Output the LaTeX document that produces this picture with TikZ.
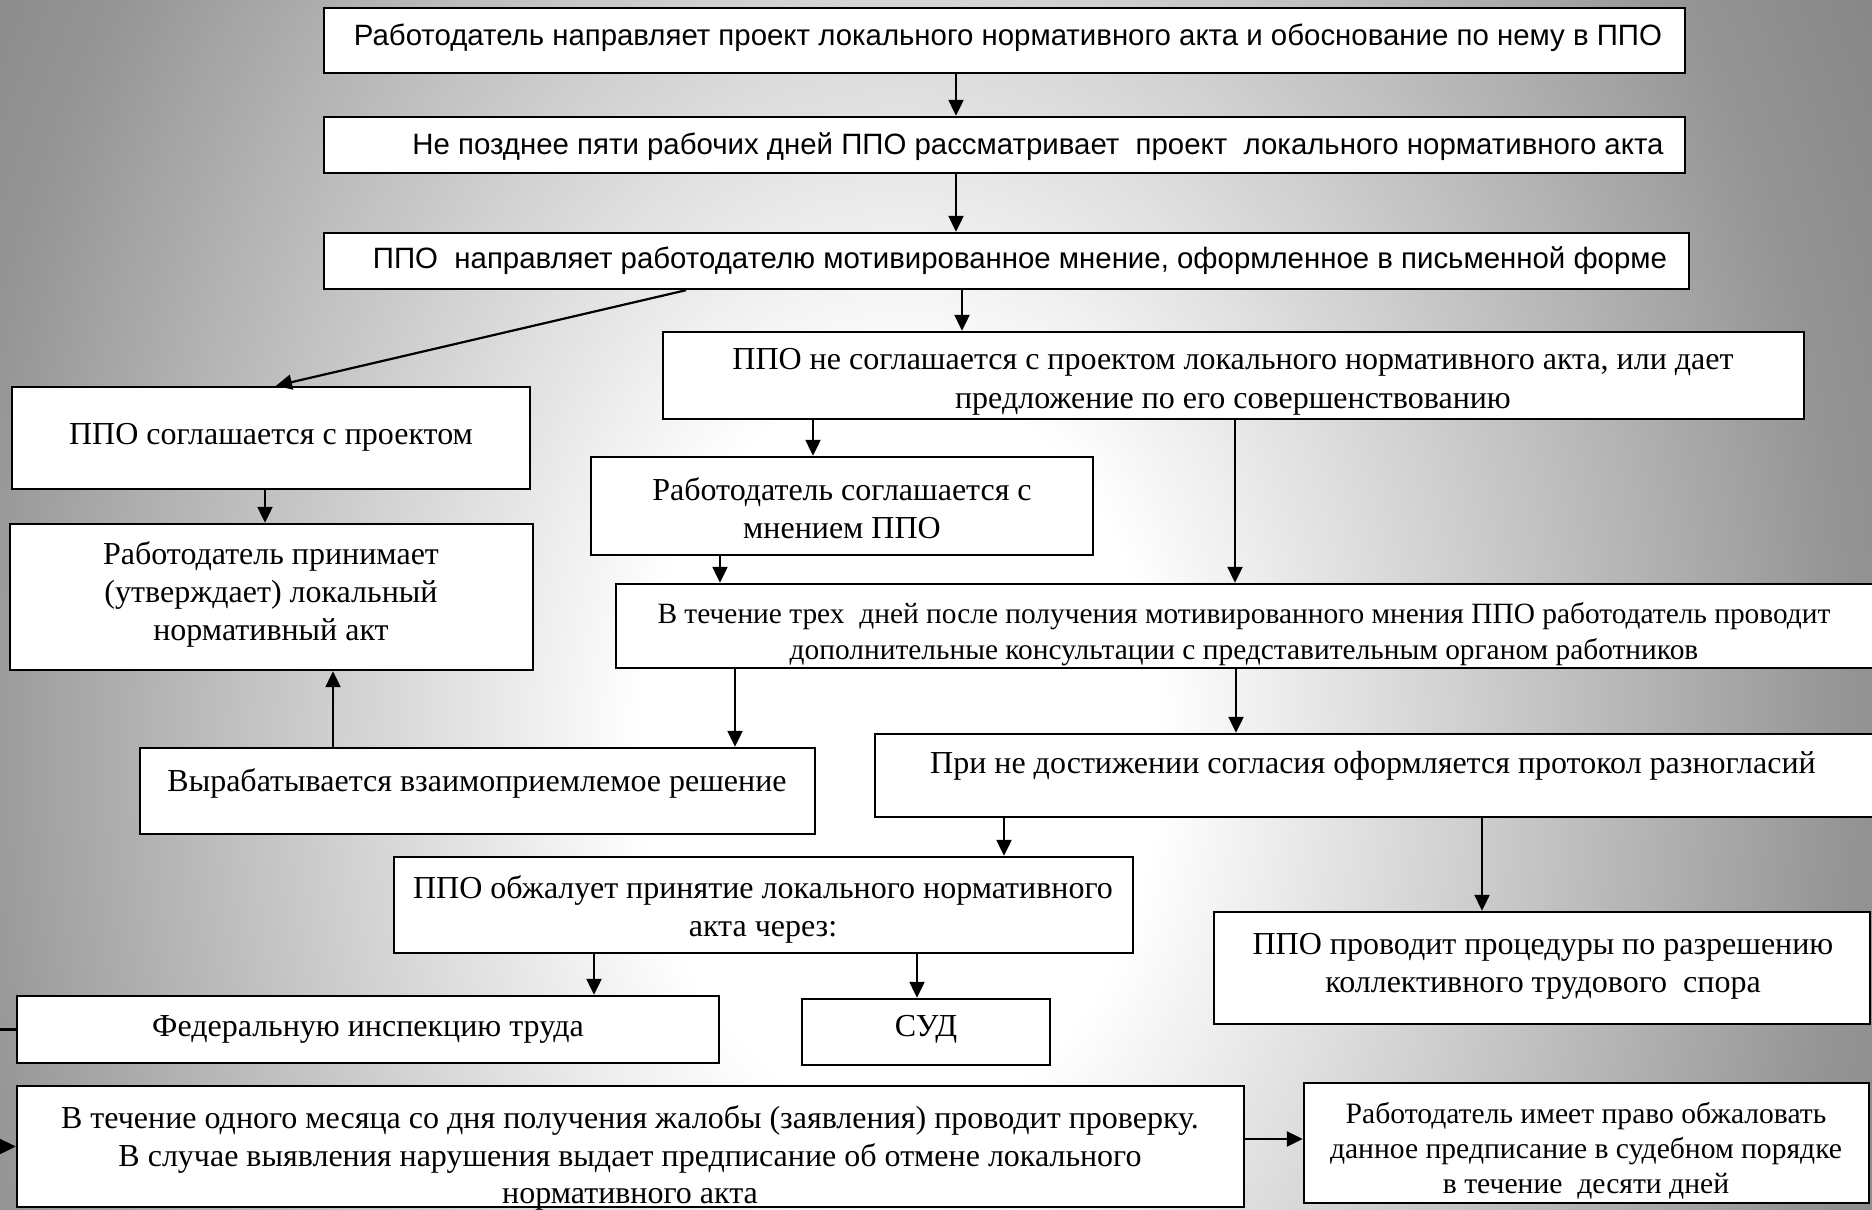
\documentclass[tikz,border=0pt]{standalone}
\usepackage{fontspec}
\setmainfont{Liberation Serif}
\newfontfamily\arialf{Liberation Sans}
\usetikzlibrary{arrows.meta,fit}
\pgfdeclareradialshading{bgshade}{\pgfpoint{0bp}{0bp}}{color(0bp)=(white); color(6.5bp)=(white); color(23.75bp)=(black!42); color(28.5bp)=(black!48); color(35bp)=(black!50); color(50bp)=(black!50)}
\begin{document}
\begin{tikzpicture}[x=0.5pt,y=-0.5pt,
  box/.style={draw=black, line width=1.2pt, fill=white, inner sep=0pt},
  arr/.style={draw=black, line width=1.1pt, -{Triangle[length=8pt,width=7.5pt]}},
  sf/.style={font=\arialf\fontsize{14.7pt}{17pt}\selectfont, inner sep=0pt},
  rm/.style={font=\fontsize{16pt}{19pt}\selectfont, align=center, inner sep=0pt}]
\useasboundingbox (0,0) rectangle (1872,1209);
\begin{scope}
  \clip (0,0) rectangle (1872,1209);
  \shade[shading=bgshade] (-100,-660) rectangle (1900,2160);
\end{scope}

% boxes
\node[box, fit={(324,8)(1685,73)}] (b1) {};
\node[box, fit={(324,117)(1685,173)}] (b2) {};
\node[box, fit={(324,233)(1689,289)}] (b3) {};
\node[box, fit={(663,332)(1804,419)}] (b4) {};
\node[box, fit={(12,387)(530,489)}] (b5) {};
\node[box, fit={(591,457)(1093,555)}] (b6) {};
\node[box, fit={(10,524)(533,670)}] (b7) {};
\node[box, fit={(616,584)(1874,668)}] (b8) {};
\node[box, fit={(140,748)(815,834)}] (b9) {};
\node[box, fit={(875,734)(1874,817)}] (b10) {};
\node[box, fit={(394,857)(1133,953)}] (b11) {};
\node[box, fit={(1214,912)(1870,1024)}] (b12) {};
\node[box, fit={(17,996)(719,1063)}] (b13) {};
\node[box, fit={(802,999)(1050,1065)}] (b14) {};
\node[box, fit={(17,1086)(1244,1207)}] (b15) {};
\node[box, fit={(1304,1083)(1869,1203)}] (b16) {};

% texts
\node[sf] (t1) at (1008,38) {Работодатель направляет проект локального нормативного акта и обоснование по нему в ППО};
\node[sf] (t2) at (1038,147) {Не позднее пяти рабочих дней ППО рассматривает~ проект~ локального нормативного акта};
\node[sf] (t3) at (1020,261) {ППО~ направляет работодателю мотивированное мнение, оформленное в письменной форме};
\node[rm, font=\fontsize{16pt}{19.5pt}\selectfont] (t4) at (1233,382) {ППО не соглашается с проектом локального нормативного акта, или дает\\предложение по его совершенствованию};
\node[rm] (t5) at (271,437) {ППО соглашается с проектом};
\node[rm] (t6) at (842,508) {Работодатель соглашается с\\мнением ППО};
\node[rm] (t7) at (271,594) {Работодатель принимает\\(утверждает) локальный\\нормативный акт};
\node[rm, font=\fontsize{14.7pt}{18pt}\selectfont] (t8) at (1244,634) {В течение трех~ дней после получения мотивированного мнения ППО работодатель проводит\\дополнительные консультации с представительным органом работников};
\node[rm] (t9) at (477,783) {Вырабатывается взаимоприемлемое решение};
\node[rm] (t10) at (1373,766) {При не достижении согласия оформляется протокол разногласий};
\node[rm] (t11) at (763,909) {ППО обжалует принятие локального нормативного\\акта через:};
\node[rm] (t12) at (1543,966) {ППО проводит процедуры по разрешению\\коллективного трудового~ спора};
\node[rm] (t13) at (368,1029) {Федеральную инспекцию труда};
\node[rm] (t14) at (926,1029) {СУД};
\node[rm, font=\fontsize{16pt}{18.8pt}\selectfont] (t15) at (630,1158) {В течение одного месяца со дня получения жалобы (заявления) проводит проверку.\\В случае выявления нарушения выдает предписание об отмене локального\\нормативного акта};
\node[rm, font=\fontsize{14.8pt}{17.6pt}\selectfont] (t16) at (1586,1151) {Работодатель имеет право обжаловать\\данное предписание в судебном порядке\\в течение~ десяти дней};

% connectors
\draw[arr] (b1.south -| 956,0) -- (b2.north -| 956,0);
\draw[arr] (b2.south -| 956,0) -- (b3.north -| 956,0);
\draw[arr] (b3.south -| 962,0) -- (b4.north -| 962,0);
\draw[arr] (b3.south -| 686,0) -- (b5.north -| 276,0);
\draw[arr] (b4.south -| 813,0) -- (b6.north -| 813,0);
\draw[arr] (b4.south -| 1235,0) -- (b8.north -| 1235,0);
\draw[arr] (b5.south -| 265,0) -- (b7.north -| 265,0);
\draw[arr] (b6.south -| 720,0) -- (b8.north -| 720,0);
\draw[arr] (b8.south -| 735,0) -- (b9.north -| 735,0);
\draw[arr] (b8.south -| 1236,0) -- (b10.north -| 1236,0);
\draw[arr] (b9.north -| 333,0) -- (b7.south -| 333,0);
\draw[arr] (b10.south -| 1004,0) -- (b11.north -| 1004,0);
\draw[arr] (b10.south -| 1482,0) -- (b12.north -| 1482,0);
\draw[arr] (b11.south -| 594,0) -- (b13.north -| 594,0);
\draw[arr] (b11.south -| 917,0) -- (b14.north -| 917,0);
\coordinate (lc) at (-40,0);
\draw[arr] (b13.west) -- (b13.west -| lc) |- (b15.west);
\draw[arr] (b15.east |- 0,1139) -- (b16.west |- 0,1139);
\end{tikzpicture}
\end{document}
